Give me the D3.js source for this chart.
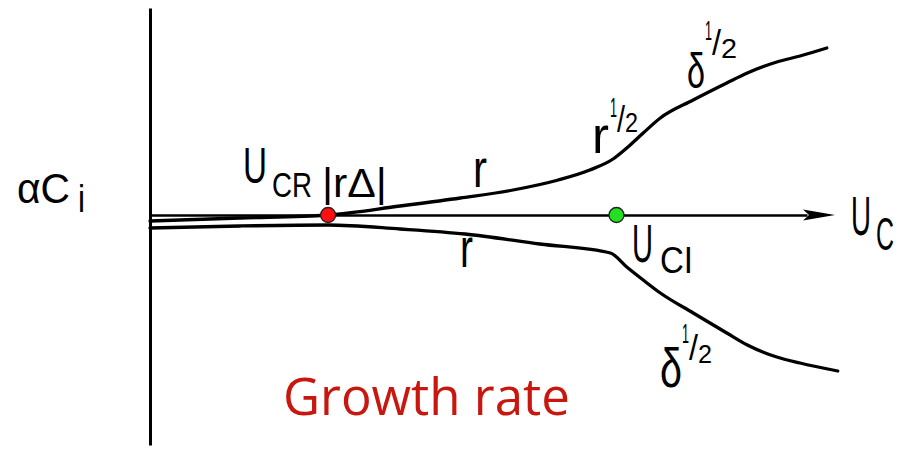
<!DOCTYPE html>
<html>
<head>
<meta charset="utf-8">
<script src="https://cdn.jsdelivr.net/npm/d3@7"></script>
<style>
  html, body { margin: 0; padding: 0; background: #fff; }
  svg { display: block; }
  .lbl { font-family: "Liberation Sans", Arial, sans-serif; fill: #000; }
</style>
</head>
<body>
<svg id="chart" width="905" height="449"></svg>
<script>
// Growth rate alpha*C_i versus U_c, arbitrary units.
// Upper branch (growing) and lower branch (decaying).
const upperU    = [0, 13.1, 26.0, 36.5, 45.3, 53.0, 59.6, 64.2, 67.6, 69.6, 72.0, 74.5, 79.3, 84.2, 87.2, 91.5, 94.9, 98.8];
const upperRate = [-3, -1.5, 0, 4.5, 8.5, 12.5, 17.5, 22.5, 28, 33.5, 41, 48.5, 57.5, 66, 71, 76.5, 79.5, 83.5];
const lowerU    = [0, 13.1, 26.0, 36.5, 46.0, 56.9, 67.2, 69.6, 72.0, 74.5, 79.3, 84.2, 87.2, 91.5, 94.9, 100.4];
const lowerRate = [-6.5, -5.5, -5, -7, -9.5, -14.5, -19, -26, -32.5, -39, -49, -59, -65, -71, -74, -78];

// Critical points on the U_c axis
const criticalNames = ["UCR", "UCI"];
const criticalU     = [26.0, 68.1];
const criticalColor = ["#ff1010", "#22e022"];

const svg = d3.select("#chart");

const x = d3.scaleLinear().domain([0, 100]).range([150, 835]);
const y = d3.scaleLinear().domain([-115, 103.5]).range([445, 8]);

// Vertical axis (alpha C_i)
const yAxis = d3.axisLeft(y).tickValues([]).tickSizeOuter(0);
const gy = svg.append("g").attr("transform", `translate(${x(0)},0)`).call(yAxis);
gy.select(".domain").attr("stroke", "#000").attr("stroke-width", 3);

// Horizontal axis (U_c) with an arrowhead
const arrowLen = 32;
const xAxisScale = x.copy().range([x(0), x(100) - arrowLen + 4]);
const xAxis = d3.axisBottom(xAxisScale).tickValues([]).tickSizeOuter(0);
const gx = svg.append("g").attr("transform", `translate(0,${y(0)})`).call(xAxis);
gx.select(".domain").attr("stroke", "#000").attr("stroke-width", 2.5);

const tipX = x(100), tipY = y(0);
svg.append("path")
  .attr("d", `M${tipX},${tipY} L${tipX - arrowLen},${tipY - 5.5} L${tipX - arrowLen + 6},${tipY} L${tipX - arrowLen},${tipY + 5.5} Z`)
  .attr("fill", "#000");

// Branches
const line = d3.line()
  .x(d => x(d[0]))
  .y(d => y(d[1]))
  .curve(d3.curveMonotoneX);

[d3.zip(upperU, upperRate), d3.zip(lowerU, lowerRate)].forEach(pts => {
  svg.append("path")
    .datum(pts)
    .attr("d", line)
    .attr("fill", "none").attr("stroke", "#000").attr("stroke-width", 3.3)
    .attr("stroke-linecap", "round").attr("stroke-linejoin", "round");
});

// Critical points
svg.selectAll("circle.crit")
  .data(criticalU.map((u, i) => ({ u, c: criticalColor[i], name: criticalNames[i] })))
  .join("circle")
  .attr("class", "crit")
  .attr("cx", d => x(d.u))
  .attr("cy", y(0))
  .attr("r", 7.5)
  .attr("fill", d => d.c)
  .attr("stroke", "#222")
  .attr("stroke-width", 1.3);

// Lettering: every piece is set at its baseline and narrowed
// horizontally to the given width (condensed hand lettering).
// piece = [string, left x, baseline, font size, width]
const labels = svg.append("g").attr("class", "labels");
function label(pieces) {
  pieces.forEach(([str, px, baseline, fs, len]) => {
    const t = labels.append("text")
      .attr("class", "lbl")
      .attr("font-size", fs)
      .text(str);
    const natural = t.node().getComputedTextLength();
    t.attr("transform", `translate(${px},${baseline}) scale(${len / natural},1)`);
  });
}

// alpha C_i
label([["αC", 17, 203, 43, 53], ["i", 78, 212, 38, 7]]);

// U_CR |r Delta|
label([["U", 243, 183, 50, 24], ["CR", 272, 197, 35, 40], ["|rΔ|", 322, 197, 40, 65]]);

// r on the upper branch
label([["r", 473, 187, 54, 14]]);

// r^(1/2)
label([["r", 592, 153, 52, 17], ["1", 610, 117, 28, 7], ["/", 617, 132, 36, 8], ["2", 625, 132, 28, 13]]);

// delta^(1/2), upper
label([["δ", 687, 88, 50, 18], ["1", 705, 40, 28, 7], ["/", 712, 55, 36, 9], ["2", 721, 58, 28, 16]]);

// r on the lower branch
label([["r", 460, 267, 55, 13]]);

// U_CI
label([["U", 632, 262, 54, 21], ["CI", 660, 273, 36, 33]]);

// delta^(1/2), lower
label([["δ", 660, 387, 55, 22], ["1", 682, 343, 28, 7], ["/", 689, 360, 36, 9], ["2", 698, 363, 25, 14]]);

// U_c
label([["U", 851, 235, 56, 20], ["C", 876, 250, 46, 18]]);

// Caption
svg.append("text")
  .attr("x", 283).attr("y", 415)
  .attr("font-family", "'Open Sans', 'Noto Sans', sans-serif")
  .attr("font-size", 51)
  .attr("fill", "#c8170e")
  .text("Growth rate");
</script>
</body>
</html>
